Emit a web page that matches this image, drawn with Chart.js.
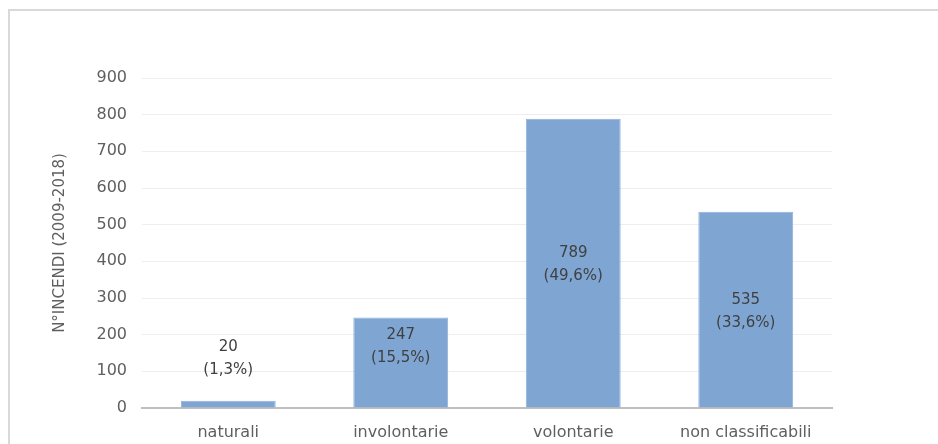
<!DOCTYPE html>
<html lang="it">
<head>
  <meta charset="UTF-8" />
  <title>Incendi per causa</title>
  <script src="https://cdn.jsdelivr.net/npm/chart.js"></script>
  <style>
    body {
      margin: 0;
      padding: 0;
      background: white;
    }
    #box {
      position: relative;
      width: 938px;
      height: 444px;
    }
    #frame {
      position: absolute;
      left: 8px;
      top: 9px;
      right: 0;
      bottom: 0;
      border-left: 2px solid #d9d9d9;
      border-top: 2px solid #d9d9d9;
    }
  </style>
</head>
<body>
  <div id="box">
    <div id="frame"></div>
    <canvas id="grafico"></canvas>
  </div>
  <script>
    const categorie = ['naturali', 'involontarie', 'volontarie', 'non classificabili'];
    const incendi = [20, 247, 789, 535];
    const percentuali = ['1,3%', '15,5%', '49,6%', '33,6%'];
    const posizioniEtichette = ['above', 'top', 'center', 'center'];

    const FONT = '"DejaVu Sans", sans-serif';

    const etichette = {
      id: 'etichette',
      afterDatasetsDraw(chart) {
        const ctx = chart.ctx;
        const meta = chart.getDatasetMeta(0);
        ctx.save();
        ctx.font = '15px ' + FONT;
        ctx.fillStyle = '#404040';
        ctx.textAlign = 'center';
        ctx.textBaseline = 'middle';
        meta.data.forEach((bar, i) => {
          let y1;
          if (posizioniEtichette[i] === 'above') y1 = bar.y - 54;
          else if (posizioniEtichette[i] === 'top') y1 = bar.y + 18;
          else y1 = (bar.y + bar.base) / 2 - 10;
          ctx.fillText(String(incendi[i]), bar.x, y1);
          ctx.fillText('(' + percentuali[i] + ')', bar.x, y1 + 23);
        });
        ctx.restore();
      }
    };

    new Chart(document.getElementById('grafico'), {
      type: 'bar',
      data: {
        labels: categorie,
        datasets: [{
          data: incendi,
          backgroundColor: '#7fa6d3',
          borderColor: '#8fb1da',
          borderWidth: 1,
          categoryPercentage: 0.55,
          barPercentage: 1
        }]
      },
      options: {
        responsive: true,
        maintainAspectRatio: false,
        animation: false,
        layout: { padding: { left: 47, right: 106, top: 78, bottom: 0 } },
        plugins: {
          legend: { display: false },
          tooltip: { enabled: false }
        },
        scales: {
          x: {
            afterFit(scale) { scale.height = 36; },
            grid: { display: false, drawTicks: false },
            border: { color: '#bfbfbf', width: 2 },
            ticks: {
              color: '#5f5f5f',
              padding: 15,
              font: { family: FONT, size: 16 }
            }
          },
          y: {
            min: 0,
            max: 900,
            afterFit(scale) { scale.width = 95; },
            grid: { color: '#eeeeee', lineWidth: 1, drawTicks: false },
            border: { display: false },
            ticks: {
              stepSize: 100,
              color: '#5f5f5f',
              padding: 15,
              font: { family: FONT, size: 16 }
            },
            title: {
              display: true,
              text: 'N°INCENDI (2009-2018)',
              color: '#5f5f5f',
              font: { family: FONT, size: 15 }
            }
          }
        }
      },
      plugins: [etichette]
    });
  </script>
</body>
</html>
